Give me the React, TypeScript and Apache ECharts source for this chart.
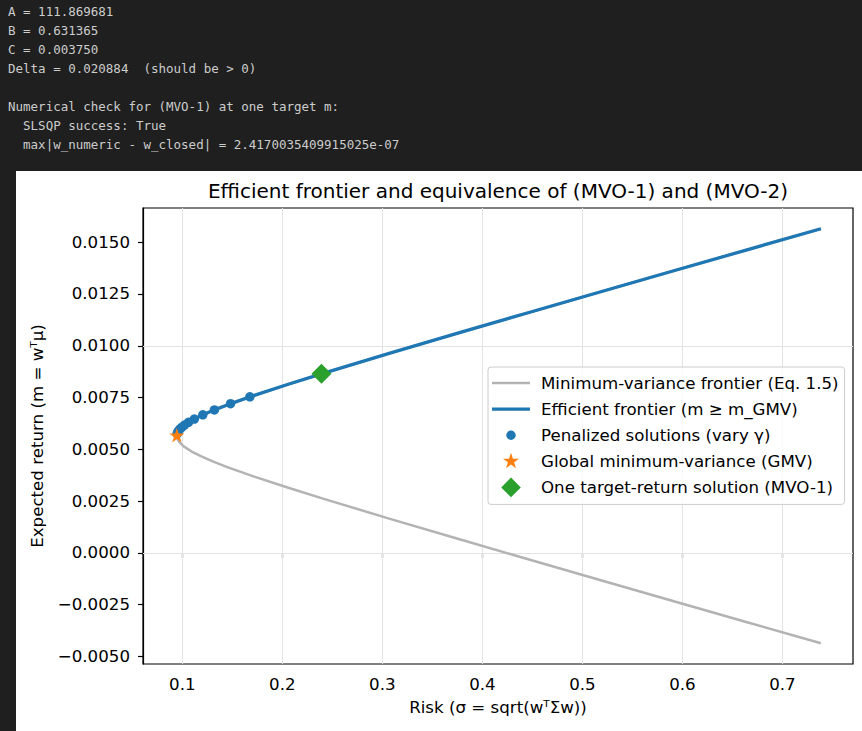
import React, { useEffect, useRef } from 'react';
import * as echarts from 'echarts';

const consoleLines = [
  'A = 111.869681',
  'B = 0.631365',
  'C = 0.003750',
  'Delta = 0.020884\u00A0\u00A0(should be > 0)',
  '',
  'Numerical check for (MVO-1) at one target m:',
  '\u00A0\u00A0SLSQP success: True',
  '\u00A0\u00A0max|w_numeric - w_closed| = 2.4170035409915025e-07',
];

const chartTitle = 'Efficient frontier and equivalence of (MVO-1) and (MVO-2)';
const xAxisName = 'Risk (\u03C3 = sqrt(w\u1D40\u03A3w))';
const yAxisName = 'Expected return (m = w\u1D40\u03BC)';

const frontierReturn = [
  -0.004362, -0.003356, -0.002356, -0.001356, -0.000356, 0.000644, 0.001644, 0.002644, 0.003144,
  0.003644, 0.004144, 0.004394, 0.004644, 0.004894, 0.005144, 0.005344, 0.005494, 0.005644,
  0.005794, 0.005944, 0.006144, 0.006394, 0.006644, 0.006894, 0.007144, 0.007644, 0.008144,
  0.008644, 0.009644, 0.010644, 0.011644, 0.012644, 0.013644, 0.014644, 0.01565,
];
const frontierRisk = [
  0.73842, 0.66546, 0.5931, 0.52098, 0.4492, 0.37797, 0.30765, 0.23906, 0.20596,
  0.17426, 0.14489, 0.13156, 0.11957, 0.10933, 0.10138, 0.09706, 0.09518, 0.09455,
  0.09518, 0.09706, 0.10138, 0.10933, 0.11957, 0.13156, 0.14489, 0.17426, 0.20596,
  0.23906, 0.30765, 0.37797, 0.4492, 0.52098, 0.5931, 0.66546, 0.73842,
];

const efficientReturn = [
  0.005644, 0.005794, 0.005944, 0.006144, 0.006394, 0.006644, 0.006894, 0.007144, 0.007644,
  0.008144, 0.008644, 0.009644, 0.010644, 0.011644, 0.012644, 0.013644, 0.014644, 0.01565,
];
const efficientRisk = [
  0.09455, 0.09518, 0.09706, 0.10138, 0.10933, 0.11957, 0.13156, 0.14489, 0.17426,
  0.20596, 0.23906, 0.30765, 0.37797, 0.4492, 0.52098, 0.5931, 0.66546, 0.73842,
];

const penalizedRisk = [
  0.16755, 0.14824, 0.13207, 0.12047, 0.11199, 0.10617, 0.1022, 0.09942, 0.09758, 0.09644,
  0.09567, 0.09518, 0.09483,
];
const penalizedReturn = [
  0.007534, 0.007204, 0.006904, 0.006664, 0.006464, 0.006304, 0.006174, 0.006064, 0.005974,
  0.005904, 0.005844, 0.005794, 0.005744,
];

const gmvRisk = 0.09455;
const gmvReturn = 0.005644;
const targetRisk = 0.23906;
const targetReturn = 0.008644;

const xTicks = [0.1, 0.2, 0.3, 0.4, 0.5, 0.6, 0.7];
const yTicks = [-0.005, -0.0025, 0, 0.0025, 0.005, 0.0075, 0.01, 0.0125, 0.015];

const seriesNames = [
  'Minimum-variance frontier (Eq. 1.5)',
  'Efficient frontier (m \u2265 m_GMV)',
  'Penalized solutions (vary \u03B3)',
  'Global minimum-variance (GMV)',
  'One target-return solution (MVO-1)',
];

const FONT = '"DejaVu Sans", sans-serif';
const FS = 16.67;
const GREY = '#b3b3b3';
const BLUE = '#1f77b4';
const ORANGE = '#ff7f0e';
const GREEN = '#2ca02c';

const STAR_PATH =
  'path://M50 100 M50 0 L61.23 34.55 L97.55 34.55 L68.17 55.9 L79.39 90.45 L50 69.1 L20.61 90.45 L31.83 55.9 L2.45 34.55 L38.77 34.55 Z';

const ICON_FRAME = 'M0 0 M38 20 ';
const iconGreyLine = 'path://' + ICON_FRAME + 'M0 8.75 L38 8.75 L38 11.25 L0 11.25 Z';
const iconBlueLine = 'path://' + ICON_FRAME + 'M0 8.35 L38 8.35 L38 11.65 L0 11.65 Z';
const iconCircle = 'path://' + ICON_FRAME + 'M14.3 10 A4.7 4.7 0 1 1 23.7 10 A4.7 4.7 0 1 1 14.3 10 Z';
const iconStar =
  'path://' + ICON_FRAME +
  'M19 1.5 L20.91 7.37 L27.08 7.37 L22.09 11 L24 16.88 L19 13.25 L14 16.88 L15.91 11 L10.92 7.37 L17.09 7.37 Z';
const iconDiamond = 'path://' + ICON_FRAME + 'M19 0.2 L28.8 10 L19 19.8 L9.2 10 Z';

const fmtY = (v: number) => {
  if (Math.abs(v) < 1e-12) return '0.0000';
  return (v < 0 ? '\u2212' : '') + Math.abs(v).toFixed(4);
};

export default function App() {
  const ref = useRef<HTMLDivElement>(null);

  useEffect(() => {
    if (!ref.current) return;
    const chart = echarts.init(ref.current, undefined, { renderer: 'svg' });

    const consoleGraphics = consoleLines
      .map((line, i) => ({ line, i }))
      .filter((o) => o.line.length > 0)
      .map((o) => ({
        type: 'text',
        x: 8,
        y: 11 + o.i * 19,
        z: 10,
        style: {
          text: o.line,
          fill: '#cccccc',
          font: '12.5px "DejaVu Sans Mono", monospace',
          textVerticalAlign: 'middle',
          verticalAlign: 'middle',
        },
      }));

    const option: any = {
      animation: false,
      backgroundColor: '#1f1f1f',
      graphic: [
        {
          type: 'rect',
          z: -100,
          shape: { x: 16, y: 171, width: 846, height: 560 },
          style: { fill: '#ffffff' },
          silent: true,
        },
        {
          type: 'text',
          x: 498,
          y: 191,
          z: 10,
          style: {
            text: chartTitle,
            fill: '#000000',
            font: `20px ${FONT}`,
            textAlign: 'center',
            align: 'center',
            textVerticalAlign: 'middle',
            verticalAlign: 'middle',
          },
        },
        ...consoleGraphics,
      ],
      grid: {
        left: 143,
        top: 208,
        right: 9,
        bottom: 67,
        show: true,
        borderColor: '#000000',
        borderWidth: 1.2,
        backgroundColor: 'transparent',
      },
      xAxis: {
        type: 'value',
        min: 0.0607,
        max: 0.7705,
        name: xAxisName,
        nameLocation: 'middle',
        nameGap: 35,
        nameTextStyle: { color: '#000', fontSize: FS, fontFamily: FONT },
        axisLine: { show: true, lineStyle: { color: '#000', width: 1.2 } },
        axisTick: { show: true, customValues: xTicks, length: 5, lineStyle: { color: '#000', width: 1.2 } },
        axisLabel: {
          customValues: xTicks,
          formatter: (v: number) => v.toFixed(1),
          color: '#000',
          fontSize: FS,
          fontFamily: FONT,
          margin: 12,
        },
        splitLine: { show: false },
      },
      yAxis: {
        type: 'value',
        min: -0.005363,
        max: 0.016651,
        name: yAxisName,
        nameLocation: 'middle',
        nameGap: 97,
        nameTextStyle: { color: '#000', fontSize: FS, fontFamily: FONT },
        axisLine: { show: true, lineStyle: { color: '#000', width: 1.2 } },
        axisTick: { show: true, customValues: yTicks, length: 5, lineStyle: { color: '#000', width: 1.2 } },
        axisLabel: {
          customValues: yTicks,
          formatter: fmtY,
          color: '#000',
          fontSize: FS,
          fontFamily: FONT,
          margin: 13,
        },
        splitLine: { show: false },
      },
      legend: {
        orient: 'vertical',
        left: 488,
        top: 367,
        z: 20,
        padding: [6, 6, 7, 4],
        itemWidth: 38,
        itemHeight: 20,
        itemGap: 6.1,
        selectedMode: false,
        backgroundColor: 'rgba(255,255,255,0.8)',
        borderColor: '#cccccc',
        borderWidth: 1,
        borderRadius: 3,
        textStyle: { color: '#000', fontSize: FS, fontFamily: FONT, padding: [0, 0, 0, 6] },
        data: [
          { name: seriesNames[0], icon: iconGreyLine, itemStyle: { color: GREY, borderWidth: 0, opacity: 1 } },
          { name: seriesNames[1], icon: iconBlueLine, itemStyle: { color: BLUE, borderWidth: 0, opacity: 1 } },
          { name: seriesNames[2], icon: iconCircle, itemStyle: { color: BLUE, borderWidth: 0, opacity: 1 } },
          { name: seriesNames[3], icon: iconStar, itemStyle: { color: ORANGE, borderWidth: 0, opacity: 1 } },
          { name: seriesNames[4], icon: iconDiamond, itemStyle: { color: GREEN, borderWidth: 0, opacity: 1 } },
        ],
      },
      series: [
        {
          name: '__grid',
          type: 'line',
          data: [],
          z: 1,
          silent: true,
          markLine: {
            z: 1,
            silent: true,
            symbol: ['none', 'none'],
            label: { show: false },
            lineStyle: { color: '#e3e3e3', width: 1, type: 'solid' },
            emphasis: { disabled: true },
            data: [
              ...xTicks.map((v) => ({ xAxis: v })),
              ...yTicks.map((v) => ({ yAxis: v })),
            ],
          },
        },
        {
          name: seriesNames[0],
          type: 'line',
          z: 2,
          symbol: 'none',
          showSymbol: false,
          color: GREY,
          lineStyle: { color: GREY, width: 2.5 },
          data: frontierRisk.map((x, i) => [x, frontierReturn[i]]),
        },
        {
          name: seriesNames[1],
          type: 'line',
          z: 3,
          symbol: 'none',
          showSymbol: false,
          color: BLUE,
          lineStyle: { color: BLUE, width: 3.3 },
          data: efficientRisk.map((x, i) => [x, efficientReturn[i]]),
        },
        {
          name: seriesNames[2],
          type: 'scatter',
          z: 4,
          symbol: 'circle',
          symbolSize: 9.5,
          itemStyle: { color: BLUE, opacity: 1 },
          data: penalizedRisk.map((x, i) => [x, penalizedReturn[i]]),
        },
        {
          name: seriesNames[3],
          type: 'scatter',
          z: 5,
          symbol: STAR_PATH,
          symbolKeepAspect: true,
          symbolSize: 16,
          itemStyle: { color: ORANGE, opacity: 1 },
          data: [[gmvRisk, gmvReturn]],
        },
        {
          name: seriesNames[4],
          type: 'scatter',
          z: 6,
          symbol: 'diamond',
          symbolSize: 20,
          itemStyle: { color: GREEN, opacity: 1 },
          data: [[targetRisk, targetReturn]],
        },
      ],
    };

    chart.setOption(option);
    return () => chart.dispose();
  }, []);

  return (
    <div
      ref={ref}
      style={{ position: 'absolute', left: 0, top: 0, width: 862, height: 731 }}
    />
  );
}
